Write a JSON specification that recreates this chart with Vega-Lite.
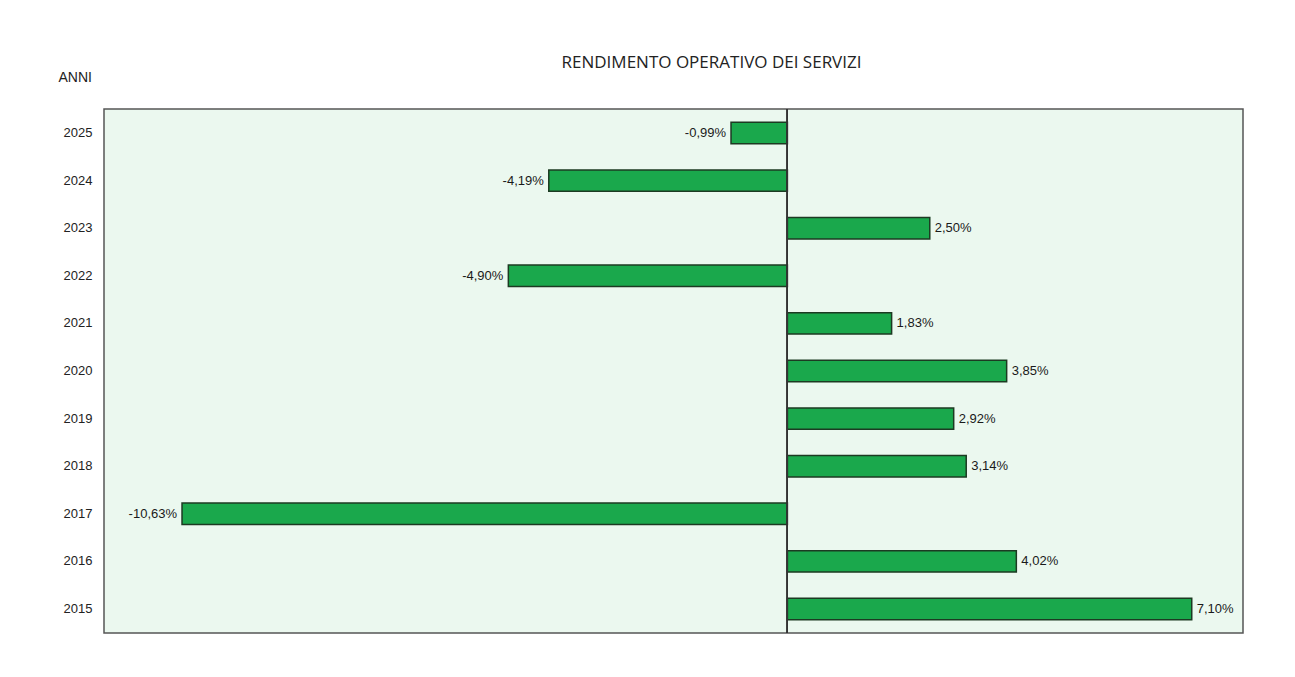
{
  "$schema": "https://vega.github.io/schema/vega-lite/v6.json",
  "autosize": {"type": "none"},
  "width": 1139,
  "height": 524,
  "padding": {"left": 104, "top": 109, "right": 52, "bottom": 44},
  "background": "white",
  "title": {
    "text": "RENDIMENTO OPERATIVO DEI SERVIZI",
    "anchor": "middle",
    "dx": 38,
    "dy": 36,
    "offset": 34,
    "font": "Open Sans",
    "fontSize": 17,
    "fontWeight": "normal",
    "color": "#222222"
  },
  "config": {
    "view": {"fill": "#ebf8ef", "stroke": "#555555", "strokeWidth": 1.5}
  },
  "data": {
    "values": [
      {"anno": "2025", "valore": -0.99, "etichetta": "-0,99%"},
      {"anno": "2024", "valore": -4.19, "etichetta": "-4,19%"},
      {"anno": "2023", "valore": 2.50, "etichetta": "2,50%"},
      {"anno": "2022", "valore": -4.90, "etichetta": "-4,90%"},
      {"anno": "2021", "valore": 1.83, "etichetta": "1,83%"},
      {"anno": "2020", "valore": 3.85, "etichetta": "3,85%"},
      {"anno": "2019", "valore": 2.92, "etichetta": "2,92%"},
      {"anno": "2018", "valore": 3.14, "etichetta": "3,14%"},
      {"anno": "2017", "valore": -10.63, "etichetta": "-10,63%"},
      {"anno": "2016", "valore": 4.02, "etichetta": "4,02%"},
      {"anno": "2015", "valore": 7.10, "etichetta": "7,10%"}
    ]
  },
  "encoding": {
    "y": {
      "field": "anno",
      "type": "ordinal",
      "sort": "descending",
      "scale": {"paddingInner": 0.55, "paddingOuter": 0.28},
      "axis": {
        "title": "ANNI",
        "titleAngle": 0,
        "titleX": -46,
        "titleY": -28,
        "titleAlign": "left",
        "titleBaseline": "alphabetic",
        "titleFont": "Liberation Sans",
        "titleFontSize": 14,
        "titleFontWeight": "normal",
        "titleColor": "#222222",
        "labelFont": "Liberation Sans",
        "labelFontSize": 13,
        "labelColor": "#222222",
        "labelPadding": 12,
        "ticks": false,
        "domain": false
      }
    },
    "x": {
      "field": "valore",
      "type": "quantitative",
      "scale": {"domain": [-12, 8], "nice": false, "zero": false},
      "axis": null
    }
  },
  "layer": [
    {
      "mark": {"type": "bar", "fill": "#1aa84c", "stroke": "#1c3a22", "strokeWidth": 1.5},
      "encoding": {"x2": {"datum": 0}}
    },
    {
      "mark": {"type": "rule", "color": "#333333", "strokeWidth": 1.2},
      "encoding": {"x": {"datum": 0}, "y": null}
    },
    {
      "transform": [{"filter": "datum.valore >= 0"}],
      "mark": {"type": "text", "align": "left", "dx": 5, "font": "Liberation Sans", "fontSize": 13, "color": "#1a1a1a"},
      "encoding": {"text": {"field": "etichetta"}}
    },
    {
      "transform": [{"filter": "datum.valore < 0"}],
      "mark": {"type": "text", "align": "right", "dx": -5, "font": "Liberation Sans", "fontSize": 13, "color": "#1a1a1a"},
      "encoding": {"text": {"field": "etichetta"}}
    }
  ]
}
